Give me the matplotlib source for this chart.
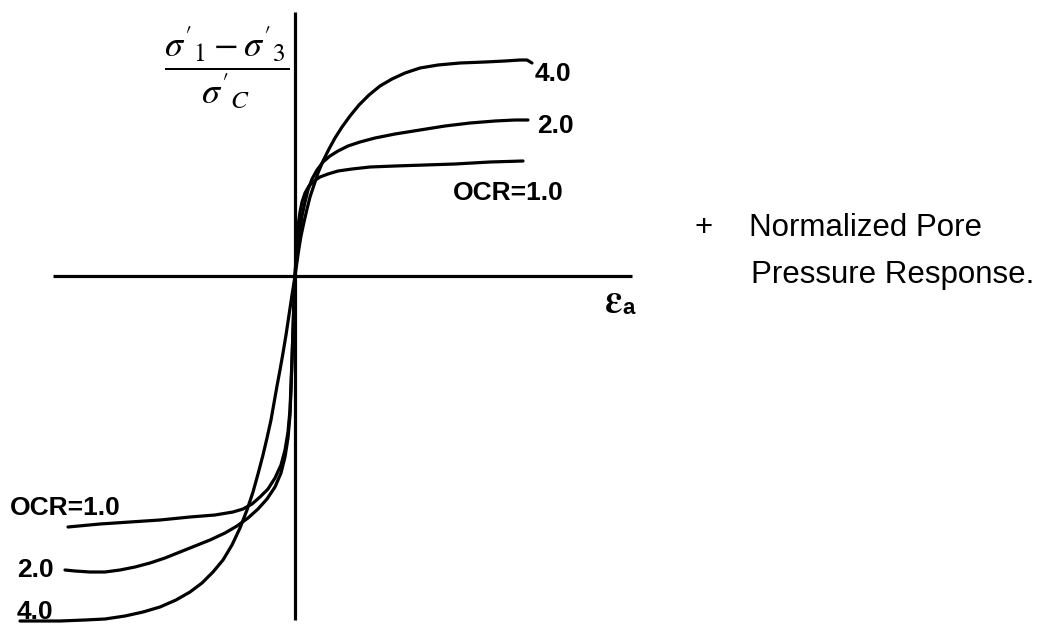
import numpy as np
import matplotlib
matplotlib.use("Agg")
import matplotlib.pyplot as plt

plt.rcParams['mathtext.fontset'] = 'stix'

# schematic stress-strain curves (arbitrary units,
# origin at the crossing of the axes, y positive upward)
ocr_labels = ['1.0', '2.0', '4.0']

# compression branch (right / up)
strain_up_1 = [0, 1, 2, 3, 5, 7, 10, 14, 19, 25, 33, 43, 57, 75, 100, 130, 160, 195, 228]
stress_up_1 = [0, 18, 36, 50, 64, 74, 83, 90, 95, 99, 102, 105, 107, 109, 110, 111, 112, 114, 115]

strain_up_2 = [0, 1, 3, 5, 7, 10, 13, 17, 22, 28, 35, 43, 53, 65, 80, 100, 125, 150, 175,
               200, 220, 233]
stress_up_2 = [0, 14, 30, 46, 60, 74, 86, 97, 106, 114, 120, 125, 130, 134, 138, 142, 146,
               150, 153, 155, 156, 156]

strain_up_4 = [0, 2, 4, 6, 9, 12, 15, 19, 23, 28, 34, 40, 47, 55, 64, 74, 85, 97, 110, 125,
               143, 165, 190, 210, 225, 232, 237]
stress_up_4 = [0, 14, 28, 40, 54, 67, 79, 91, 103, 115, 127, 138, 149, 160, 171, 181, 190,
               197, 203, 208, 211, 213, 214, 215, 216, 216, 213]

# extension branch (left / down)
strain_dn_1 = [0, -1, -2, -3, -4, -5, -7, -10, -14, -20, -27, -35, -43, -52, -62, -80, -105,
               -135, -165, -195, -227]
stress_dn_1 = [0, -24, -54, -84, -109, -134, -156, -174, -189, -202, -213, -221, -228, -233,
               -236, -239, -241, -244, -246, -248, -251]

strain_dn_2 = [0, -1, -2, -3, -4, -5, -7, -10, -14, -20, -28, -37, -47, -58, -70, -85, -100,
               -115, -130, -145, -160, -175, -190, -205, -220, -230]
stress_dn_2 = [0, -24, -54, -84, -114, -139, -162, -181, -197, -211, -223, -233, -242, -250,
               -257, -264, -270, -276, -282, -287, -291, -294, -296, -296, -295, -294]

strain_dn_4 = [0, -3, -6, -9, -12, -15, -18, -21, -24, -28, -32, -37, -42, -48, -55, -63, -72,
               -82, -93, -105, -119, -135, -152, -170, -190, -210, -235, -255, -275]
stress_dn_4 = [0, -19, -39, -59, -77, -94, -110, -127, -144, -162, -179, -198, -216, -234,
               -252, -269, -284, -296, -307, -316, -324, -331, -336, -340, -343, -344, -345,
               -345, -345]

fig = plt.figure(figsize=(10.4, 6.26), dpi=100)
ax = fig.add_axes([0, 0, 1, 1])
ax.set_xlim(-295, 745)
ax.set_ylim(-350, 276)
ax.axis('off')

lw = 2.3
# axes of the sketch
ax.plot([-242, 337], [0, 0], color='black', lw=lw, solid_capstyle='butt')
ax.plot([0, 0], [-344, 264], color='black', lw=lw, solid_capstyle='butt')

curves = [
    (strain_up_1, stress_up_1), (strain_up_2, stress_up_2), (strain_up_4, stress_up_4),
    (strain_dn_1, stress_dn_1), (strain_dn_2, stress_dn_2), (strain_dn_4, stress_dn_4),
]
for sx, sy in curves:
    ax.plot(sx, sy, color='black', lw=lw, solid_joinstyle='round', solid_capstyle='round')

lab = dict(fontsize=19, fontweight='bold', family='Liberation Sans', va='center', ha='left')
ax.text(240, 202, ocr_labels[2], **lab)
ax.text(242, 150, ocr_labels[1], **lab)
ax.text(158, 83, 'OCR=' + ocr_labels[0], **lab)
ax.text(-285, -232, 'OCR=' + ocr_labels[0], **lab)
ax.text(-278, -294, ocr_labels[1], **lab)
ax.text(-278, -336, ocr_labels[2], **lab)

# y label as a fraction
ax.text(-68, 209, r"$\dfrac{\sigma'_1-\sigma'_3}{\sigma'_C}$", fontsize=26,
        ha='center', va='center')

# x label
ax.text(309, -25, r"$\mathbf{\varepsilon}$", fontsize=28, ha='left', va='center')
ax.text(327, -32, 'a', fontsize=16, fontweight='bold', family='Liberation Sans',
        ha='left', va='center')

note = dict(fontsize=22.5, family='Liberation Sans', va='center', ha='left')
ax.text(400, 48, '+', **note)
ax.text(454, 48, 'Normalized Pore', **note)
ax.text(456, 1, 'Pressure Response.', **note)

fig.savefig('out.png', dpi=100)
